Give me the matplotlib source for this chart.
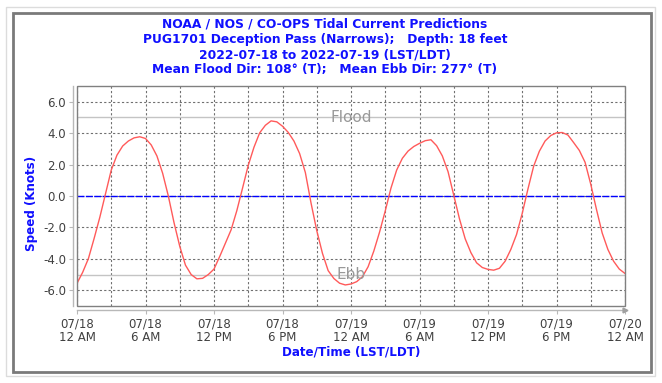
import matplotlib
matplotlib.use("Agg")
import matplotlib.pyplot as plt
from matplotlib.patches import Rectangle
from matplotlib.transforms import offset_copy

# ---------------- data ----------------
title_lines = [
    "NOAA / NOS / CO-OPS Tidal Current Predictions",
    "PUG1701 Deception Pass (Narrows);   Depth: 18 feet",
    "2022-07-18 to 2022-07-19 (LST/LDT)",
    "Mean Flood Dir: 108\u00b0 (T);   Mean Ebb Dir: 277\u00b0 (T)",
]
x_label = "Date/Time (LST/LDT)"
y_label = "Speed (Knots)"

# half-hourly readings, hours since 2022-07-18 00:00 (LST/LDT)
hours = [h * 0.5 for h in range(97)]
speed = [
    -5.56, -4.85, -3.98, -2.70, -1.35, 0.15, 1.65, 2.60, 3.18, 3.50,   # 0-4.5
    3.70, 3.77, 3.66, 3.25, 2.55, 1.45, 0.00, -1.70, -3.20, -4.40,     # 5-9.5
    -5.00, -5.27, -5.24, -5.00, -4.65, -3.85, -3.00, -2.15, -0.93, 0.50,  # 10-14.5
    1.95, 3.10, 4.02, 4.50, 4.78, 4.72, 4.44, 4.05, 3.50, 2.70,        # 15-19.5
    1.50, -0.45, -2.20, -3.65, -4.75, -5.25, -5.55, -5.66, -5.60, -5.45,  # 20-24.5
    -5.14, -4.50, -3.50, -2.30, -0.95, 0.50, 1.65, 2.40, 2.86, 3.15,   # 25-29.5
    3.35, 3.52, 3.58, 3.20, 2.55, 1.55, 0.05, -1.45, -2.72, -3.60,     # 30-34.5
    -4.25, -4.55, -4.67, -4.72, -4.60, -4.15, -3.40, -2.45, -1.10, 0.45,  # 35-39.5
    1.90, 2.85, 3.50, 3.85, 4.02, 4.04, 3.88, 3.40, 2.90, 2.15,        # 40-44.5
    0.75, -0.85, -2.35, -3.40, -4.15, -4.65, -4.93,                    # 45-48
]

x_tick_hours = [0, 6, 12, 18, 24, 30, 36, 42, 48]
x_tick_labels = ["07/18\n12 AM", "07/18\n6 AM", "07/18\n12 PM", "07/18\n6 PM",
                 "07/19\n12 AM", "07/19\n6 AM", "07/19\n12 PM", "07/19\n6 PM",
                 "07/20\n12 AM"]
x_grid_hours = [0, 3, 6, 9, 12, 15, 18, 21, 24, 27, 30, 33, 36, 39, 42, 45, 48]
y_ticks = [-6, -4, -2, 0, 2, 4, 6]
y_tick_labels = ["-6.0", "-4.0", "-2.0", "0.0", "2.0", "4.0", "6.0"]
flood_level = 5.0
ebb_level = -5.0

# ---------------- layout helpers ----------------
W, H = 662, 383
fig = plt.figure(figsize=(W / 100, H / 100), dpi=100)
fig.patch.set_facecolor("white")


def fx(x):
    return x / W


def fy(y):
    return 1 - y / H


BLUE = "#1010ff"
TICKC = "#404040"
AXC = "#b8b8b8"

# panel frame (outer light + inner dark)
fig.add_artist(Rectangle((fx(6), fy(376)), fx(655) - fx(6), fy(7) - fy(376),
                         transform=fig.transFigure, fill=False,
                         ec="#dcdcdc", lw=1.0))
fig.add_artist(Rectangle((fx(12.5), fy(372)), fx(651) - fx(12.5), fy(13) - fy(372),
                         transform=fig.transFigure, fill=False,
                         ec="#7a7a7a", lw=2.0))

ax = fig.add_axes([fx(77), fy(306), fx(625) - fx(77), fy(86) - fy(306)])
ax.set_facecolor("white")
ax.set_xlim(0, 48)
ax.set_ylim(-7, 7)

# grid
ax.set_xticks(x_tick_hours)
ax.set_xticklabels(x_tick_labels)
ax.set_xticks(x_grid_hours, minor=True)
ax.set_yticks(y_ticks)
ax.set_yticklabels(y_tick_labels)
ax.grid(True, which="both", axis="x", color="#707070", lw=0.8,
        linestyle=(0, (2, 2)))
ax.grid(True, which="major", axis="y", color="#707070", lw=0.8,
        linestyle=(0, (2, 2)))
ax.set_axisbelow(True)

ax.axhline(flood_level, color="#c4c4c4", lw=1.0, zorder=1.5)
ax.axhline(ebb_level, color="#c4c4c4", lw=1.0, zorder=1.5)
ax.axhline(0, color="#0000ff", lw=1.0, linestyle=(0, (5, 1)), zorder=2)

ax.plot(hours, speed, color="#ff5a5a", lw=1.0, zorder=3,
        solid_joinstyle="round", solid_capstyle="round")

ax.text(24, flood_level, "Flood", ha="center", va="center", fontsize=11,
        color="#999999", zorder=4)
ax.text(24, ebb_level, "Ebb", ha="center", va="center", fontsize=11,
        color="#999999", zorder=4)

# plot outline
ax.add_patch(Rectangle((0, 0), 1, 1, transform=ax.transAxes, fill=False,
                       ec="#808080", lw=1.0, zorder=6, clip_on=False))

# axis lines offset from plot
for s in ["top", "right"]:
    ax.spines[s].set_visible(False)
for s in ["left", "bottom"]:
    ax.spines[s].set_position(("outward", 3))
    ax.spines[s].set_color(AXC)
    ax.spines[s].set_linewidth(1.0)

ax.tick_params(axis="both", which="major", length=3, width=0.8,
               color=AXC, labelcolor=TICKC, labelsize=8.5)
ax.tick_params(axis="y", pad=2)
ax.tick_params(axis="x", pad=2.5)
ax.tick_params(axis="x", which="minor", length=0)
for lbl in ax.get_xticklabels():
    lbl.set_linespacing(1.0)

# small arrow at the end of the x axis
arrow_tr = offset_copy(ax.transAxes, fig=fig, y=-3, units="points")
ax.plot([1.0], [0.0], marker=">", markersize=3.5, color="#a0a0a0",
        transform=arrow_tr, clip_on=False, zorder=7)

# titles and labels
title_y = [24.3, 39.5, 54.7, 70.0]
for line, yy in zip(title_lines, title_y):
    fig.text(fx(325), fy(yy), line, ha="center", va="center",
             fontsize=8.8, fontweight="bold", color=BLUE)

fig.text(fx(351), fy(352), x_label, ha="center", va="center",
         fontsize=8.6, fontweight="bold", color=BLUE)
fig.text(fx(32), fy(203), y_label, ha="center", va="center", rotation=90,
         fontsize=8.6, fontweight="bold", color=BLUE)

fig.savefig("out.png", dpi=100, facecolor="white")
